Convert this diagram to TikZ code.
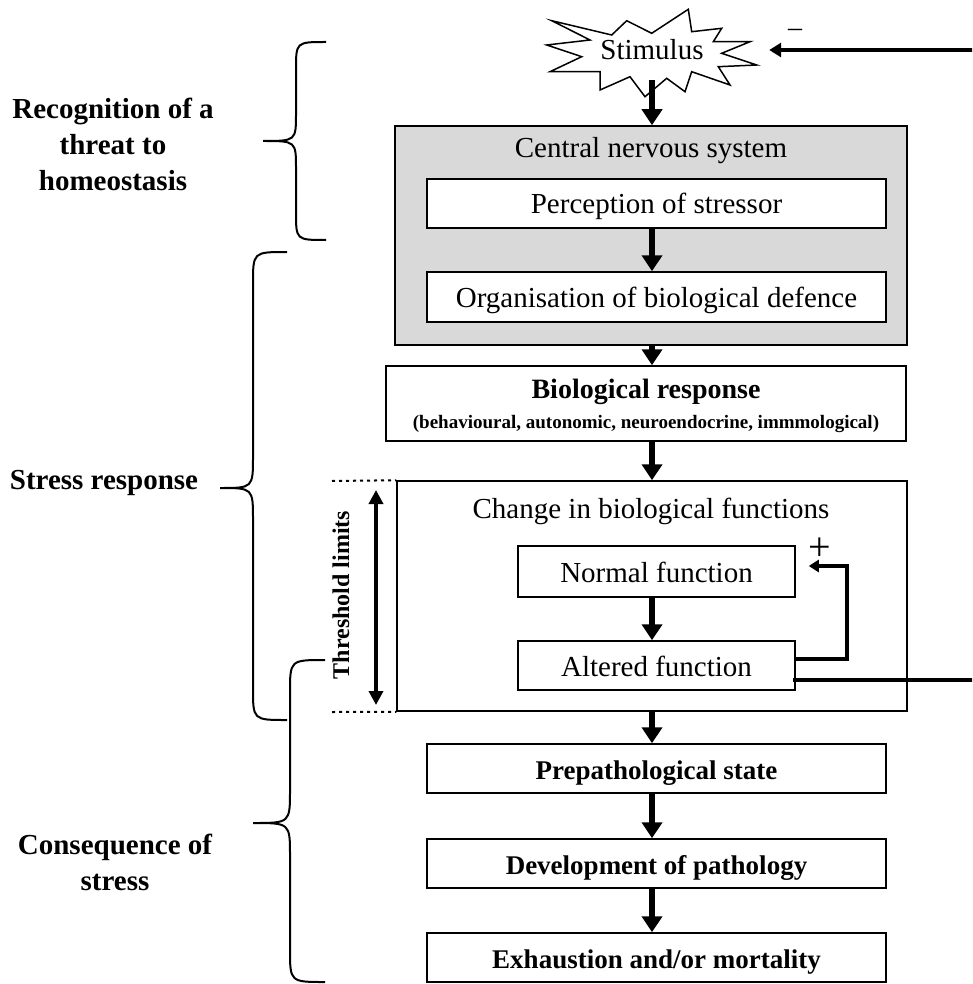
\documentclass[tikz,border=0pt]{standalone}
\usepackage{fontspec}
\setmainfont{Liberation Serif}
\usetikzlibrary{arrows.meta,calc}
\newcommand\bracepath[7]{%
  \draw[bracestyle] (#1,#4) .. controls (#2,#4) .. (#2,#4+#7) -- (#2,#5-#7)
    .. controls (#2,#5) .. (#3,#5) .. controls (#2,#5) .. (#2,#5+#7)
    -- (#2,#6-#7) .. controls (#2,#6) .. (#1,#6);}
\tikzset{
  box/.style={draw, line width=1.5pt, fill=white, inner sep=0pt, text height=25pt, text depth=4pt, font=\fontsize{29}{33}\selectfont},
  boldbox/.style={box, font=\fontsize{27}{32}\selectfont\bfseries},
  bigarrow/.style={line width=6pt, -{Triangle[width=20pt,length=16pt]}},
  bracestyle/.style={line width=2pt},
  sidelabel/.style={align=center, font=\fontsize{29}{36}\selectfont\bfseries},
  dottedline/.style={line width=2pt, dash pattern=on 3pt off 4pt},
  plaintext/.style={font=\fontsize{29}{33}\selectfont, inner sep=0pt},
}
\begin{document}
\begin{tikzpicture}[x=1pt,y=-1pt]
\useasboundingbox (0,0) rectangle (972,984);
\clip (0,0) rectangle (972,984);

% stimulus star
\draw[line width=1.5pt, fill=white] (551.7,20.7) -- (611.7,35) -- (626.7,20.7) -- (651.7,33.3)
  -- (688.3,9.3) -- (691.7,31.7) -- (721.7,28.3) -- (713.3,41.7) -- (750,41.7)
  -- (721.7,53.3) -- (756.7,65) -- (718.3,66.7) -- (730,85) -- (691.7,71.7)
  -- (685,91.7) -- (666.7,78.3) -- (645,96.7) -- (630,76.7) -- (600,90)
  -- (600,71.7) -- (550,71.7) -- (581.7,56.7) -- (546.7,45) -- (590,40) -- cycle;
\node[plaintext, minimum width=214pt, minimum height=60pt] (stim) at (652,50) {Stimulus};

% CNS box
\node[box, fill={rgb,255:red,217;green,217;blue,217}, minimum width=512pt, minimum height=219pt] (cns) at (651,235.5) {};
\node[plaintext] (cnst) at (651,151) {Central nervous system};
\node[box, minimum width=459pt, minimum height=49pt] (perc) at (656.5,203.5) {Perception of stressor};
\node[box, minimum width=459pt, minimum height=50pt] (org) at (656.5,297) {Organisation of biological defence};

% biological response
\node[box, minimum width=520pt, minimum height=75pt] (bio) at (646,403.5) {};
\node[font=\fontsize{28}{32}\selectfont\bfseries, inner sep=0pt] (biot) at (646,392) {Biological response};
\node[font=\fontsize{19}{22}\selectfont\bfseries, inner sep=0pt] (bios) at (646,424) {(behavioural, autonomic, neuroendocrine, immmological)};

% change box
\node[box, minimum width=510pt, minimum height=230pt] (chg) at (652,596) {};
\node[plaintext] (chgt) at (651,511) {Change in biological functions};
\node[box, minimum width=277pt, minimum height=51pt] (norm) at (656.5,571.5) {Normal function};
\node[box, minimum width=277pt, minimum height=49pt] (alt) at (656.5,665.5) {Altered function};

% consequences
\node[boldbox, minimum width=459pt, minimum height=49pt] (pre) at (656.5,768.5) {Prepathological state};
\node[boldbox, minimum width=459pt, minimum height=49pt] (dev) at (656.5,863.5) {Development of pathology};
\node[boldbox, minimum width=459pt, minimum height=49pt] (exh) at (656.5,957.5) {Exhaustion and/or mortality};

% vertical arrows
\draw[bigarrow] ([yshift=-30pt]stim.center) -- (stim.center |- cns.north);
\draw[bigarrow] ([xshift=-4.5pt]perc.south) -- ([xshift=-4.5pt]org.north);
\draw[bigarrow] ([xshift=1pt]cns.south) -- ([xshift=6pt]bio.north);
\draw[bigarrow] ([xshift=6pt]bio.south) -- (chg.north);
\draw[bigarrow] ([xshift=-4.5pt]norm.south) -- ([xshift=-4.5pt]alt.north);
\draw[bigarrow] (chg.south) -- ([xshift=-4.5pt]pre.north);
\draw[bigarrow] ([xshift=-4.5pt]pre.south) -- ([xshift=-4.5pt]dev.north);
\draw[bigarrow] ([xshift=-4.5pt]dev.south) -- ([xshift=-4.5pt]exh.north);

% positive feedback loop
\draw[line width=4pt, -{Triangle[width=12pt,length=10pt]}, line join=miter]
  ([yshift=6.5pt]alt.east) -- ++(51,0) |- ([xshift=13pt,yshift=5.5pt]norm.east);
\node[font=\fontsize{40}{44}\selectfont, inner sep=0pt] (plus) at (820,549) {+};

% negative feedback to stimulus
\coordinate (edgeA) at (980,680);
\coordinate (edgeB) at (980,50);
\draw[line width=4pt] ([yshift=-14.5pt,xshift=-3pt]alt.east) -- (edgeA);
\draw[line width=4pt, -{Triangle[width=14pt,length=12pt]}] (edgeB) -- ([xshift=10pt]stim.east);
\node[font=\fontsize{28}{32}\selectfont, inner sep=0pt] (minus) at (795,33) {–};

% threshold limits
\coordinate (thTop) at (332,481);
\coordinate (thBot) at (332,712);
\draw[dottedline] (thTop) -- (chg.north west);
\draw[dottedline] (thBot) -- (chg.south west);
\coordinate (arTop) at (376,490);
\coordinate (arBot) at (376,705);
\draw[line width=4pt, {Triangle[width=14pt,length=14pt]}-{Triangle[width=14pt,length=14pt]}] (arTop) -- (arBot);
\node[rotate=90, font=\fontsize{24}{28}\selectfont\bfseries, inner sep=0pt] (thr) at (341,595) {Threshold limits};

% braces
\bracepath{326}{296}{263}{42}{141}{240}{28}
\bracepath{287}{253}{220}{252}{488}{720}{32}
\bracepath{325}{290}{253}{660}{823}{982}{33}

% side labels
\node[sidelabel] (lab1) at (113,144) {Recognition of a\\threat to\\homeostasis};
\node[sidelabel] (lab2) at (104,483) {Stress response};
\node[sidelabel] (lab3) at (115,862) {Consequence of\\stress};
\end{tikzpicture}
\end{document}
